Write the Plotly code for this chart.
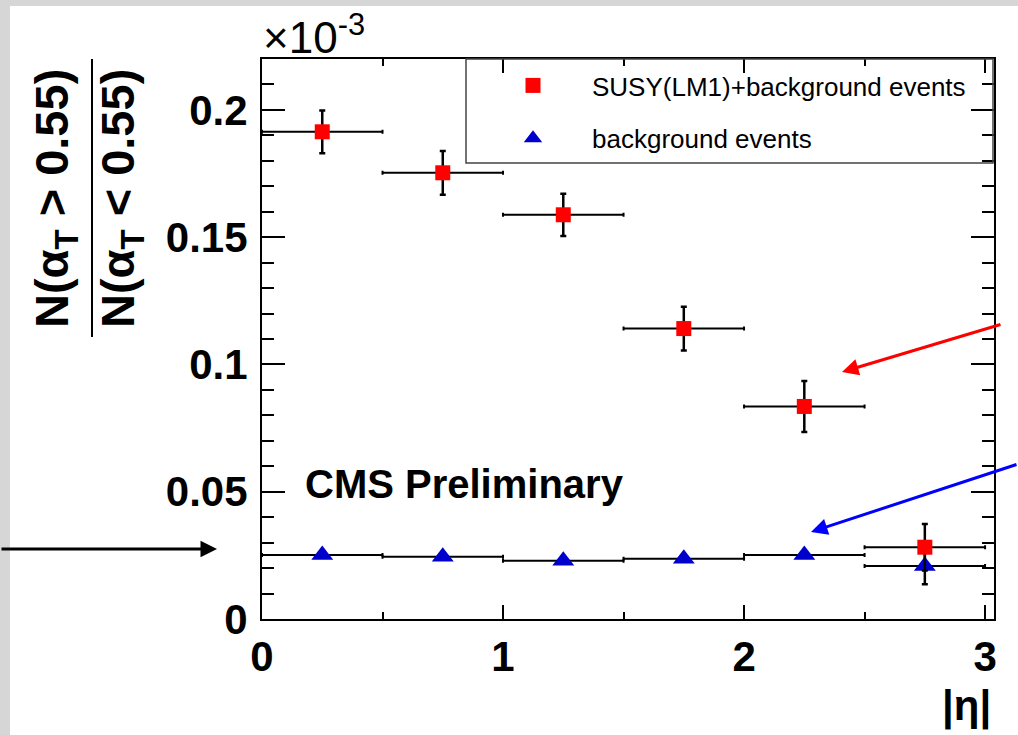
import plotly.graph_objects as go

# |eta| bins (centre and half width)
eta_centers = [0.25, 0.75, 1.25, 1.75, 2.25, 2.75]
eta_halfwidth = [0.25, 0.25, 0.25, 0.25, 0.25, 0.25]

# ratio N(alpha_T > 0.55) / N(alpha_T < 0.55), in units of 10^-3
susy_ratio = [0.1914, 0.1753, 0.1588, 0.1141, 0.0835, 0.0282]
susy_err = [0.0084, 0.0086, 0.0083, 0.0086, 0.0100, 0.0091]
bkg_ratio = [0.0251, 0.0245, 0.0229, 0.0237, 0.0251, 0.0208]
bkg_err = [0.0008, 0.0008, 0.0008, 0.0008, 0.0009, 0.0071]

series_names = ["SUSY(LM1)+background events", "background events"]
x_tick_vals = [0, 1, 2, 3]
y_tick_vals = [0, 0.05, 0.1, 0.15, 0.2]

FONT = "Liberation Sans, Arial, Helvetica, sans-serif"
W, H = 1018, 735
# plot-area edges in page pixels
L, R, T, B = 262, 994, 59, 619


def px_x(x):
    return (x - L) / (R - L)


def px_y(y):
    return (B - y) / (B - T)


fig = go.Figure()

fig.add_trace(go.Scatter(
    x=eta_centers, y=bkg_ratio, mode="markers", name=series_names[1],
    legendrank=2, legendgroup="bkg",
    marker=dict(symbol="triangle-up", size=19, color="#0000cc"),
    error_x=dict(type="data", array=eta_halfwidth, color="black", thickness=2, width=2),
    error_y=dict(type="data", array=bkg_err, color="black", thickness=2.5, width=3),
))
fig.add_trace(go.Scatter(
    x=eta_centers, y=susy_ratio, mode="markers", name=series_names[0],
    legendrank=1, legendgroup="susy",
    marker=dict(symbol="square", size=15, color="#ff0000"),
    error_x=dict(type="data", array=eta_halfwidth, color="black", thickness=2, width=2),
    error_y=dict(type="data", array=susy_err, color="black", thickness=2.5, width=3),
))

axis_common = dict(
    showline=True, linecolor="black", linewidth=2, mirror="ticks",
    ticks="inside", tickcolor="black", tickwidth=1.5,
    showgrid=False, zeroline=False,
    tickfont=dict(family=FONT, size=42, color="black", weight="bold"),
)

fig.update_xaxes(
    range=[0, 3.037], tickvals=x_tick_vals, ticklen=14,
    minor=dict(dtick=0.5, tick0=0, ticks="inside", ticklen=7, tickcolor="black", tickwidth=1.5),
    **axis_common,
)
fig.update_yaxes(
    range=[0, 0.22], tickvals=y_tick_vals, ticklen=23, ticklabelstandoff=4,
    minor=dict(dtick=0.01, tick0=0, ticks="inside", ticklen=12, tickcolor="black", tickwidth=1.5),
    **axis_common,
)

shapes = [
    # slide border
    dict(type="rect", xref="paper", yref="paper", layer="below",
         x0=px_x(0), x1=px_x(W), y0=px_y(0), y1=px_y(6),
         fillcolor="#d6d6d6", line=dict(width=0)),
    dict(type="rect", xref="paper", yref="paper", layer="below",
         x0=px_x(0), x1=px_x(10), y0=px_y(0), y1=px_y(H),
         fillcolor="#d6d6d6", line=dict(width=0)),
    # legend box
    dict(type="rect", xref="paper", yref="paper",
         x0=px_x(466), x1=px_x(993), y0=px_y(59), y1=px_y(163),
         fillcolor="rgba(0,0,0,0)", line=dict(color="#444444", width=1.5)),
    # fraction bar of the y title
    dict(type="line", xref="paper", yref="paper",
         x0=px_x(92), x1=px_x(92), y0=px_y(59), y1=px_y(337),
         line=dict(color="black", width=2)),
]

annotations = [
    dict(text="N(α<sub>T</sub> &gt; 0.55)", x=px_x(55), y=px_y(199), textangle=-90,
         xanchor="center", yanchor="middle",
         font=dict(family=FONT, size=47, color="black", weight="bold")),
    dict(text="N(α<sub>T</sub> &lt; 0.55)", x=px_x(121), y=px_y(199), textangle=-90,
         xanchor="center", yanchor="middle",
         font=dict(family=FONT, size=47, color="black", weight="bold")),
    dict(text="×10<sup>-3</sup>", x=px_x(261), y=px_y(64), xanchor="left", yanchor="bottom",
         font=dict(family=FONT, size=44, color="black")),
    dict(text="CMS Preliminary", x=px_x(303), y=px_y(484), xanchor="left", yanchor="middle",
         font=dict(family=FONT, size=40, color="black", weight="bold")),
    dict(text="|η|", x=px_x(966), y=px_y(706), xanchor="center", yanchor="middle",
         font=dict(family=FONT, size=42, color="black", weight="bold")),
    # arrows
    dict(text="", x=px_x(842), y=px_y(372), ax=1002 - 842, ay=324 - 372,
         showarrow=True, arrowhead=2, arrowsize=1.1, arrowwidth=3, arrowcolor="#ff0000"),
    dict(text="", x=px_x(811), y=px_y(532), ax=1022 - 811, ay=464 - 532,
         showarrow=True, arrowhead=2, arrowsize=1.1, arrowwidth=3, arrowcolor="#0000ff"),
    dict(text="", x=px_x(217), y=px_y(549), ax=-217, ay=0,
         showarrow=True, arrowhead=2, arrowsize=1.1, arrowwidth=3, arrowcolor="black"),
]
for a in annotations:
    a.setdefault("xref", "paper")
    a.setdefault("yref", "paper")
    a.setdefault("showarrow", False)

fig.update_layout(
    width=W, height=H,
    margin=dict(l=L, r=W - R, t=T, b=H - B, pad=0),
    paper_bgcolor="white", plot_bgcolor="white",
    showlegend=True,
    legend=dict(
        x=px_x(474), y=px_y(62), xanchor="left", yanchor="top",
        bgcolor="rgba(0,0,0,0)", borderwidth=0,
        font=dict(family=FONT, size=26, color="black"),
        itemwidth=108, tracegroupgap=16, traceorder="grouped",
    ),
    shapes=shapes,
    annotations=annotations,
)

fig.write_html("out.html")
